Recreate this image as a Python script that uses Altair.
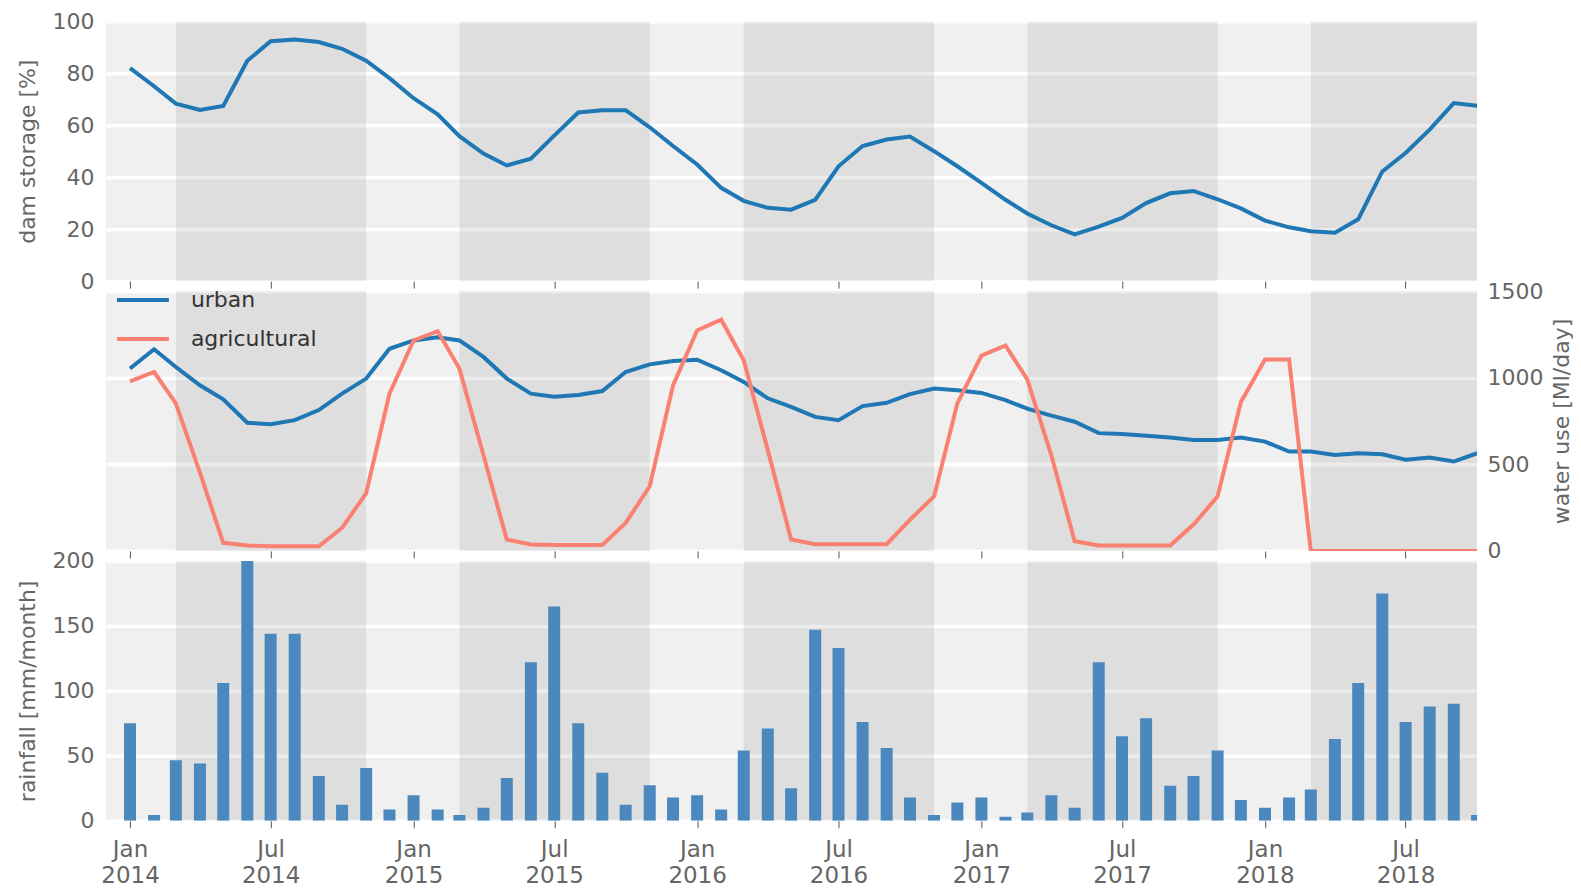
import altair as alt
import pandas as pd

# ---------------- data ----------------
months = pd.date_range("2014-01-01", "2018-10-01", freq="MS")

dam_storage = [82, 75, 68.3, 65.9, 67.4, 84.8, 92.3, 93, 92, 89.4, 84.8, 78.1,
               70.4, 64.2, 55.8, 49.1, 44.5, 47.1, 56, 64.9, 65.8, 65.8, 59.2, 52,
               44.9, 35.9, 30.9, 28.2, 27.5, 31.3, 44.2, 52, 54.5, 55.6, 50, 44.2,
               37.8, 31.3, 26, 21.5, 18, 21, 24.3, 30, 33.8, 34.7, 31.5, 28,
               23.3, 20.7, 19.2, 18.6, 23.8, 42.2, 49.3, 58.3, 68.5, 67.5]

urban = [1053, 1164, 1062, 956, 875, 740, 732, 755, 813, 908, 995, 1167,
         1215, 1234, 1215, 1120, 995, 908, 890, 900, 923, 1033, 1077, 1097,
         1104, 1043, 976, 881, 832, 774, 755, 836, 855, 905, 937, 927,
         912, 871, 821, 781, 746, 680, 675, 665, 655, 641, 641, 655,
         631, 574, 574, 554, 564, 558, 526, 539, 516, 564]

agricultural = [979, 1033, 852, 452, 47, 31, 27, 27, 27, 133, 334, 908,
                1215, 1269, 1053, 552, 66, 37, 34, 34, 34, 162, 373, 956,
                1273, 1335, 1101, 582, 66, 39, 39, 39, 39, 180, 315, 852,
                1128, 1186, 990, 552, 56, 31, 31, 31, 31, 152, 315, 860,
                1105, 1105, 0, 0, 0, 0, 0, 0, 0, 0]

rainfall = [75, 4.5, 46.5, 44, 106, 200, 144, 144, 34.5, 12.4, 40.6, 8.6,
            19.6, 8.6, 4.5, 10, 33, 122, 165, 75, 37, 12.4, 27.3, 18,
            19.6, 8.6, 54, 71, 25, 147, 133, 76, 56, 18, 4.5, 14,
            18, 3, 6.3, 19.6, 10, 122, 65, 79, 27, 34.5, 54, 16,
            10, 18, 24, 63, 106, 175, 76, 88, 90, 4.5]

season_start = ["2014-03-01", "2015-03-01", "2016-03-01", "2017-03-01", "2018-03-01"]
season_end = ["2014-11-01", "2015-11-01", "2016-11-01", "2017-11-01", "2018-11-01"]

series_names = ["urban", "agricultural"]
series_colors = ["#1f77b4", "#fa8072"]

df = pd.DataFrame({"date": months, "dam": dam_storage, "urban": urban,
                   "agricultural": agricultural, "rain": rainfall})
bands = pd.DataFrame({"start": pd.to_datetime(season_start),
                      "end": pd.to_datetime(season_end)})

# ---------------- layout / style ----------------
W, H = 1372, 260
FONT = "DejaVu Sans"
GREY = "#666666"

x_domain = [alt.DateTime(year=2013, month=12, date=1),
            alt.DateTime(year=2018, month=10, date=1)]
x_ticks = [alt.DateTime(year=y, month=m, date=1)
           for y in range(2014, 2019) for m in (1, 7)]
x_scale = alt.Scale(domain=x_domain, nice=False, padding=0)


def x_axis(show_labels):
    if show_labels:
        return alt.Axis(values=x_ticks, title=None, grid=False, domain=False,
                        tickSize=7, tickColor="#555555", labelFlush=False,
                        labelFontSize=23, labelPadding=11, labelLineHeight=26,
                        labelExpr="[timeFormat(datum.value, '%b'), timeFormat(datum.value, '%Y')]")
    return alt.Axis(values=x_ticks, title=None, grid=False, domain=False,
                    tickSize=7, tickColor="#555555", labels=False)


def band_layer(show_labels):
    return alt.Chart(bands).mark_rect(color="black", opacity=0.075, clip=True).encode(
        x=alt.X("start:T", scale=x_scale, axis=x_axis(show_labels)),
        x2="end:T",
    )


grid_kw = dict(grid=True, gridColor="white", gridWidth=3.5, domain=False,
               tickSize=0, labelPadding=12, titlePadding=12)

# top panel: dam storage
top = alt.layer(
    band_layer(False),
    alt.Chart(df).mark_line(color="#1f77b4", strokeWidth=4, clip=True).encode(
        x=alt.X("date:T", scale=x_scale, axis=x_axis(False)),
        y=alt.Y("dam:Q", scale=alt.Scale(domain=[0, 100], nice=False),
                axis=alt.Axis(values=[0, 20, 40, 60, 80, 100],
                              title="dam storage [%]", **grid_kw)),
    ),
).properties(width=W, height=H)

# middle panel: water use
middle = alt.layer(
    band_layer(False),
    alt.Chart(df).transform_fold(series_names, as_=["kind", "use"]).mark_line(
        strokeWidth=4, clip=True).encode(
        x=alt.X("date:T", scale=x_scale, axis=x_axis(False)),
        y=alt.Y("use:Q", scale=alt.Scale(domain=[0, 1500], nice=False),
                axis=alt.Axis(values=[0, 500, 1000, 1500], orient="right", format="d",
                              title="water use [Ml/day]", titleAngle=270,
                              titleBaseline="top",
                              grid=True, gridColor="white", gridWidth=3.5,
                              domain=False, tickSize=0, labelPadding=10,
                              titlePadding=9)),
        color=alt.Color("kind:N",
                        scale=alt.Scale(domain=series_names, range=series_colors),
                        legend=alt.Legend(title=None, orient="none", legendX=9,
                                          legendY=-19, symbolType="stroke",
                                          symbolSize=2704, symbolStrokeWidth=4,
                                          labelFontSize=22, labelFont=FONT,
                                          labelColor="#333333", labelOffset=20,
                                          rowPadding=-23)),
    ),
).properties(width=W, height=H)

# bottom panel: rainfall
bottom = alt.layer(
    band_layer(True),
    alt.Chart(df).mark_bar(color="#4a88bd", size=12, clip=True).encode(
        x=alt.X("date:T", scale=x_scale, axis=x_axis(True)),
        y=alt.Y("rain:Q", scale=alt.Scale(domain=[0, 200], nice=False),
                axis=alt.Axis(values=[0, 50, 100, 150, 200],
                              title="rainfall [mm/month]", **grid_kw)),
    ),
).properties(width=W, height=H)

chart = alt.vconcat(top, middle, bottom, spacing=10, bounds="flush").resolve_scale(
    x="independent", y="independent", color="independent"
).properties(
    padding={"left": 9, "top": 2, "right": 0, "bottom": 0}
).configure_view(
    fill="#F0F0F0", stroke=None
).configure_axis(
    labelFont=FONT, labelFontSize=22, labelColor=GREY,
    titleFont=FONT, titleFontSize=22, titleFontWeight="normal", titleColor=GREY,
)

chart.save("out.html", embed_options={"renderer": "svg", "actions": False})
